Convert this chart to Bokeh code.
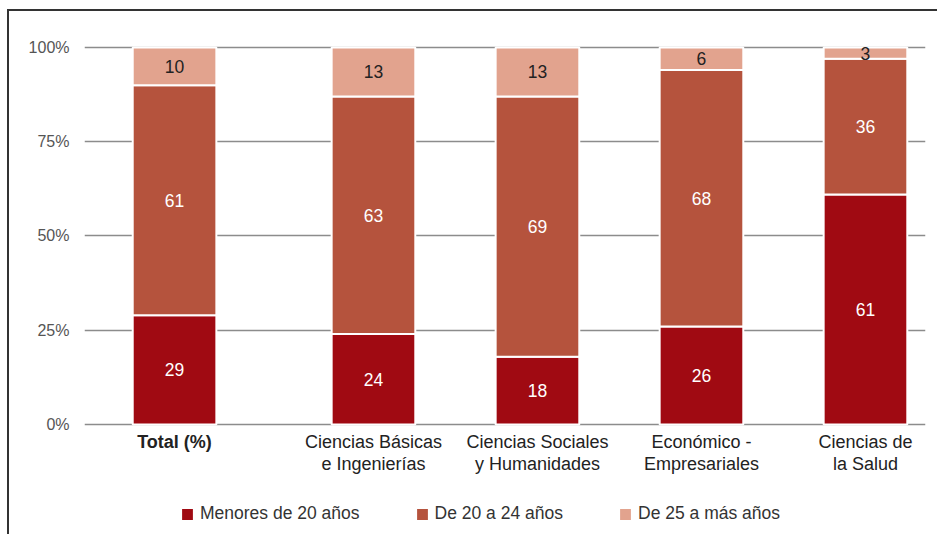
from bokeh.plotting import figure
from bokeh.models import Range1d, FixedTicker, Legend, LegendItem, ColumnDataSource, Label
from bokeh.core.properties import value
from bokeh.embed import file_html
from bokeh.resources import INLINE

categories = ["Total (%)", "Ciencias Básicas\ne Ingenierías", "Ciencias Sociales\ny Humanidades",
              "Económico -\nEmpresariales", "Ciencias de\nla Salud"]
series_names = ["Menores de 20 años", "De 20 a 24 años", "De 25 a más años"]
menores = [29, 24, 18, 26, 61]
de20a24 = [61, 63, 69, 68, 36]
de25mas = [10, 13, 13, 6, 3]
y_ticks = [0, 25, 50, 75, 100]
y_tick_labels = ["0%", "25%", "50%", "75%", "100%"]
colors = ["#A00A12", "#B5533D", "#E2A38E"]
label_colors = ["#FFFFFF", "#FFFFFF", "#222222"]

FONT = "Liberation Sans"
FS = "17.5px"
GAP = 0.213
xs = [i + (GAP if i > 0 else 0) for i in range(len(categories))]

series = [menores, de20a24, de25mas]
data = {"x": xs}
for name, vals in zip(series_names, series):
    data[name] = vals
source = ColumnDataSource(data)

p = figure(width=930, height=525, output_backend="svg", toolbar_location=None,
           x_range=Range1d(-0.549, xs[-1] + 0.366), y_range=Range1d(-29.7, 104.5),
           min_border_left=75, min_border_right=14, min_border_top=19, min_border_bottom=0)
p.margin = (9, 0, 0, 7)
p.styles = {"border-top": "2px solid #333333", "border-left": "2px solid #333333"}
p.outline_line_color = None

renderers = p.vbar_stack(series_names, x="x", width=0.51, color=colors, source=source,
                         line_color="white", line_width=2)

# segment labels
bottom = [0] * len(xs)
for vals, tc in zip(series, label_colors):
    centers = [b + v / 2 for b, v in zip(bottom, vals)]
    p.text(x=xs, y=centers, text=[str(v) for v in vals], text_align="center",
           text_baseline="middle", text_color=tc, text_font=value(FONT), text_font_size=FS)
    bottom = [b + v for b, v in zip(bottom, vals)]

# grid
p.xgrid.visible = False
p.ygrid.ticker = FixedTicker(ticks=y_ticks)
p.ygrid.grid_line_color = "#8c8c8c"
p.ygrid.grid_line_width = 1.5

# y axis
p.yaxis.ticker = FixedTicker(ticks=y_ticks)
p.yaxis.major_label_overrides = {t: l for t, l in zip(y_ticks, y_tick_labels)}
p.yaxis.axis_line_color = None
p.yaxis.major_tick_line_color = None
p.yaxis.minor_tick_line_color = None
p.yaxis.major_label_text_font = FONT
p.yaxis.major_label_text_font_size = "16px"
p.yaxis.major_label_text_color = "#555555"
p.yaxis.major_label_standoff = 9

# x axis: category labels drawn inside the extended frame
p.xaxis.visible = False
for i, (x, c) in enumerate(zip(xs, categories)):
    for j, line in enumerate(c.split("\n")):
        p.add_layout(Label(x=x, y=0, y_offset=-7 - 22 * j, text=line, text_align="center",
                           text_baseline="top", text_font=FONT, text_font_size="18px",
                           text_font_style="bold" if i == 0 else "normal",
                           text_color="#222222"))

legend = Legend(items=[LegendItem(label=n, renderers=[r]) for n, r in zip(series_names, renderers)],
                orientation="horizontal", location=(95, 12))
legend.border_line_color = None
legend.background_fill_alpha = 0
legend.label_text_font = FONT
legend.label_text_font_size = FS
legend.label_text_color = "#333333"
legend.glyph_width = 16
legend.glyph_height = 16
legend.label_standoff = 5
legend.spacing = 54
legend.padding = 0
legend.margin = 0
p.add_layout(legend, "center")

open("out.html", "w").write(file_html(p, INLINE))
